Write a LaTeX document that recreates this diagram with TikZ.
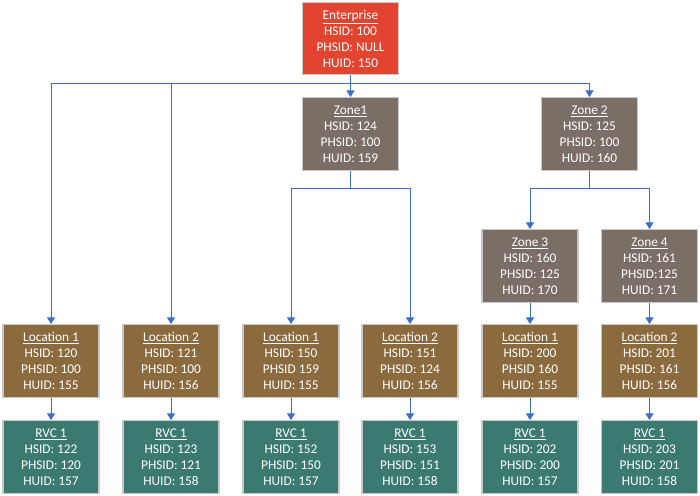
\documentclass[tikz,border=0pt]{standalone}
\usepackage{fontspec}
\setmainfont{Carlito}
\usetikzlibrary{arrows.meta}
\definecolor{entred}{HTML}{E2442F}
\definecolor{zonegray}{HTML}{7A6E66}
\definecolor{locbrown}{HTML}{8B6A3E}
\definecolor{rvcteal}{HTML}{3B7A71}
\definecolor{linkblue}{HTML}{3C6FC4}
\definecolor{edgegray}{HTML}{C9C9C9}
\tikzset{
  box/.style={draw=edgegray, line width=0.9pt, text=white, inner sep=0pt,
    minimum width=72pt, minimum height=54.5pt, align=center,
    font=\fontsize{10}{12}\selectfont},
  entbox/.style={box, fill=entred},
  zonebox/.style={box, fill=zonegray},
  locbox/.style={box, fill=locbrown},
  rvcbox/.style={box, fill=rvcteal},
  arr/.style={draw=linkblue, line width=0.75pt, -{Triangle[width=6pt,length=5pt]}}
}
\begin{document}
\begin{tikzpicture}[x=0.75pt,y=-0.75pt]
\useasboundingbox (0,0) rectangle (700,496);
% top
\node[entbox] (ent) at (350.5,38.5) {\underline{Enterprise}\\HSID: 100\\PHSID: NULL\\HUID: 150};
% zones
\node[zonebox] (z1) at (350.5,134) {\underline{Zone1}\\HSID: 124\\PHSID: 100\\HUID: 159};
\node[zonebox] (z2) at (589.5,134) {\underline{Zone 2}\\HSID: 125\\PHSID: 100\\HUID: 160};
\node[zonebox] (z3) at (530,266) {\underline{Zone 3}\\HSID: 160\\PHSID: 125\\HUID: 170};
\node[zonebox] (z4) at (649.5,266) {\underline{Zone 4}\\HSID: 161\\PHSID:125\\HUID: 171};
% locations
\node[locbox] (l1) at (51,361) {\underline{Location 1}\\HSID: 120\\PHSID: 100\\HUID: 155};
\node[locbox] (l2) at (171,361) {\underline{Location 2}\\HSID: 121\\PHSID: 100\\HUID: 156};
\node[locbox] (l3) at (291,361) {\underline{Location 1}\\HSID: 150\\PHSID 159\\HUID: 155};
\node[locbox] (l4) at (410,361) {\underline{Location 2}\\HSID: 151\\PHSID: 124\\HUID: 156};
\node[locbox] (l5) at (530,361) {\underline{Location 1}\\HSID: 200\\PHSID 160\\HUID: 155};
\node[locbox] (l6) at (649.5,361) {\underline{Location 2}\\HSID: 201\\PHSID: 161\\HUID: 156};
% rvcs
\node[rvcbox] (r1) at (51,457) {\underline{RVC 1}\\HSID: 122\\PHSID: 120\\HUID: 157};
\node[rvcbox] (r2) at (171,457) {\underline{RVC 1}\\HSID: 123\\PHSID: 121\\HUID: 158};
\node[rvcbox] (r3) at (291,457) {\underline{RVC 1}\\HSID: 152\\PHSID: 150\\HUID: 157};
\node[rvcbox] (r4) at (410,457) {\underline{RVC 1}\\HSID: 153\\PHSID: 151\\HUID: 158};
\node[rvcbox] (r5) at (530,457) {\underline{RVC 1}\\HSID: 202\\PHSID: 200\\HUID: 157};
\node[rvcbox] (r6) at (649.5,457) {\underline{RVC 1}\\HSID: 203\\PHSID: 201\\HUID: 158};
% connectors from enterprise
\draw[arr] (ent.south) -- ++(0,8.5) -| (l1.north);
\draw[arr] (ent.south) -- ++(0,8.5) -| (l2.north);
\draw[arr] (ent.south) -- (z1.north);
\draw[arr] (ent.south) -- ++(0,8.5) -| (z2.north);
% zone 1
\draw[arr] (z1.south) -- ++(0,18) -| (l3.north);
\draw[arr] (z1.south) -- ++(0,18) -| (l4.north);
% zone 2
\draw[arr] (z2.south) -- ++(0,18) -| (z3.north);
\draw[arr] (z2.south) -- ++(0,18) -| (z4.north);
% zone 3/4 to locations
\draw[arr] (z3.south) -- (l5.north);
\draw[arr] (z4.south) -- (l6.north);
% locations to rvcs
\draw[arr] (l1.south) -- (r1.north);
\draw[arr] (l2.south) -- (r2.north);
\draw[arr] (l3.south) -- (r3.north);
\draw[arr] (l4.south) -- (r4.north);
\draw[arr] (l5.south) -- (r5.north);
\draw[arr] (l6.south) -- (r6.north);
\end{tikzpicture}
\end{document}
